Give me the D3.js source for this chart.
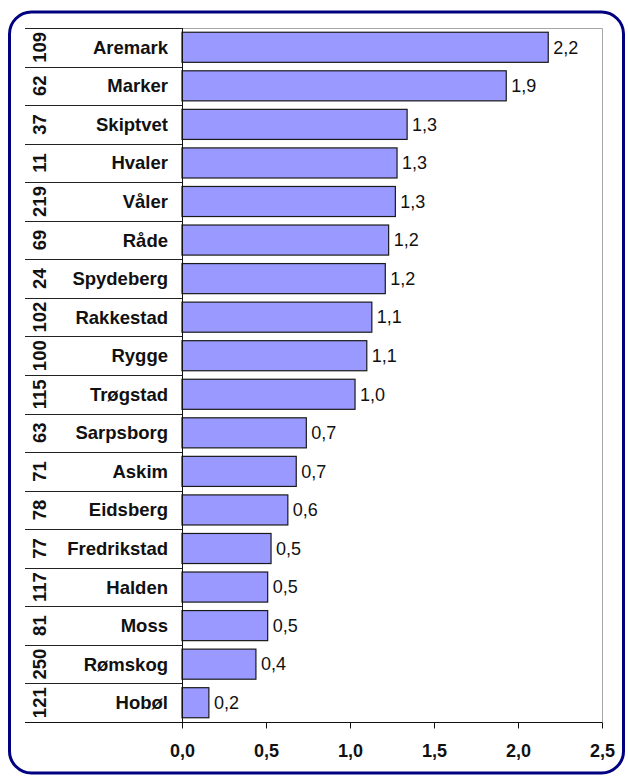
<!DOCTYPE html>
<html>
<head>
<meta charset="utf-8">
<script src="https://cdn.jsdelivr.net/npm/d3@7"></script>
<style>
  body { margin: 0; background: #fff; }
  text { font-family: "Liberation Sans", Arial, sans-serif; }
</style>
</head>
<body>
<svg id="chart" width="628" height="776"></svg>
<script>
const BAR_FILL = "#9999ff";
const FRAME = "#000080";

// data
const kommuner = ["Aremark", "Marker", "Skiptvet", "Hvaler", "Våler", "Råde",
  "Spydeberg", "Rakkestad", "Rygge", "Trøgstad", "Sarpsborg", "Askim",
  "Eidsberg", "Fredrikstad", "Halden", "Moss", "Rømskog", "Hobøl"];
const ranks = ["109", "62", "37", "11", "219", "69", "24", "102", "100", "115",
  "63", "71", "78", "77", "117", "81", "250", "121"];
const values = [2.18, 1.93, 1.34, 1.28, 1.27, 1.23, 1.21, 1.13, 1.10, 1.03,
  0.74, 0.68, 0.63, 0.53, 0.51, 0.51, 0.44, 0.16];
const xTicks = [0, 0.5, 1.0, 1.5, 2.0, 2.5];

var svg = d3.select("#chart"),
  plot = { left: 182, right: 602, top: 28, bottom: 722 },
  tableLeft = 25;

var no = d3.formatLocale({ decimal: ",", thousands: " ", grouping: [3], currency: ["", " kr"] });
var fmt = no.format(".1f");

var x = d3.scaleLinear().domain([0, 2.5]).range([plot.left, plot.right]);
var y = d3.scaleBand()
  .domain(kommuner)
  .range([plot.top, plot.bottom])
  .paddingInner(0.22)
  .paddingOuter(0.11);

var data = kommuner.map(function(k, i) {
  return { name: k, rank: ranks[i], value: values[i] };
});

// rounded frame
svg.append("rect")
  .attr("x", 9.5)
  .attr("y", 12)
  .attr("width", 614)
  .attr("height", 761)
  .attr("rx", 22)
  .attr("fill", "#fff")
  .attr("stroke", FRAME)
  .attr("stroke-width", 3);

// plot area border (top + right, grey)
svg.append("path")
  .attr("d", "M" + plot.left + "," + (plot.top + 0.5) + "H" + (plot.right + 0.5) + "V" + plot.bottom)
  .attr("fill", "none")
  .attr("stroke", "#a6a6a6")
  .attr("stroke-width", 1);

// table row lines on the left
var bounds = kommuner.map(function(k) { return y(k) - y.step() * y.paddingInner() / 2; });
bounds.push(plot.bottom);
svg.append("g")
  .selectAll("line")
  .data(bounds)
  .enter()
  .append("line")
  .attr("x1", tableLeft)
  .attr("x2", plot.left)
  .attr("y1", function(d) { return Math.round(d) + 0.5; })
  .attr("y2", function(d) { return Math.round(d) + 0.5; })
  .attr("stroke", "#222")
  .attr("stroke-width", 1);

// bars
svg.append("g")
  .selectAll("rect")
  .data(data)
  .enter()
  .append("rect")
  .attr("x", x(0))
  .attr("y", function(d) { return y(d.name); })
  .attr("width", function(d) { return x(d.value) - x(0); })
  .attr("height", y.bandwidth())
  .attr("fill", BAR_FILL)
  .attr("stroke", "#1a1a1a")
  .attr("stroke-width", 1.2);

// value labels
svg.append("g")
  .selectAll("text")
  .data(data)
  .enter()
  .append("text")
  .attr("x", function(d) { return x(d.value) + 5; })
  .attr("y", function(d) { return y(d.name) + y.bandwidth() / 2; })
  .attr("dy", "0.35em")
  .attr("font-size", 18)
  .attr("fill", "#111")
  .text(function(d) { return fmt(d.value); });

// category names
svg.append("g")
  .selectAll("text")
  .data(data)
  .enter()
  .append("text")
  .attr("x", 168)
  .attr("y", function(d) { return y(d.name) + y.bandwidth() / 2; })
  .attr("dy", "0.35em")
  .attr("text-anchor", "end")
  .attr("font-size", 18.5)
  .attr("font-weight", "bold")
  .attr("fill", "#111")
  .text(function(d) { return d.name; });

// rotated rank numbers
svg.append("g")
  .selectAll("text")
  .data(data)
  .enter()
  .append("text")
  .attr("transform", function(d) {
    return "translate(40," + (y(d.name) + y.bandwidth() / 2) + ") rotate(-90)";
  })
  .attr("dy", "0.35em")
  .attr("text-anchor", "middle")
  .attr("font-size", 18.5)
  .attr("font-weight", "bold")
  .attr("fill", "#111")
  .text(function(d) { return d.rank; });

// left axis line
svg.append("line")
  .attr("x1", plot.left + 0.5)
  .attr("x2", plot.left + 0.5)
  .attr("y1", plot.top)
  .attr("y2", plot.bottom + 6)
  .attr("stroke", "#111");

// bottom axis
var xAxis = svg.append("g")
  .attr("transform", "translate(0," + (plot.bottom + 0.5) + ")")
  .call(d3.axisBottom(x).tickValues(xTicks).tickFormat(fmt).tickSize(6).tickPadding(16));
xAxis.select(".domain")
  .attr("d", "M" + tableLeft + ",0H" + (plot.right + 0.5))
  .attr("stroke", "#111");
xAxis.selectAll(".tick line").attr("stroke", "#111");
xAxis.selectAll(".tick text")
  .attr("font-family", "Liberation Sans, Arial, sans-serif")
  .attr("font-size", 18)
  .attr("font-weight", "bold")
  .attr("fill", "#111");
</script>
</body>
</html>
